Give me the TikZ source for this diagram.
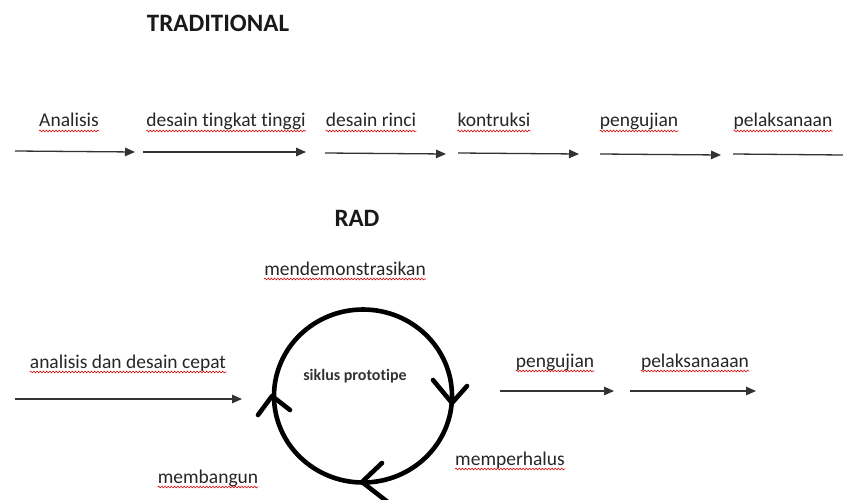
\documentclass[tikz,border=0pt]{standalone}
\usepackage{fontspec}
\setmainfont[Ligatures={NoCommon}]{Carlito}
\usetikzlibrary{arrows.meta,decorations.pathmorphing,shapes.geometric}

\tikzset{
  lbl/.style={inner sep=0pt, anchor=base, font=\fontsize{19.5}{22}\selectfont, text=black!85},
  head/.style={inner sep=0pt, anchor=base, font=\fontsize{25}{28}\selectfont\bfseries, text=black!90},
  flow/.style={line width=1.3pt, draw=black!80, -{Triangle[length=10pt,width=8.5pt]}},
  squig/.style={draw=red!85!black, line width=0.55pt, decorate,
                decoration={snake, amplitude=0.9pt, segment length=3.2pt}},
  cyc/.style={line width=4.6pt, draw=black},
  chev/.style={line width=4.6pt, draw=black, line cap=round, line join=round}
}

\begin{document}
\begin{tikzpicture}[x=1pt,y=-1pt]
\useasboundingbox (0,0) rectangle (843,500);

% ---------- traditional sequence ----------
\node[head] (tradh) at (218,32) {TRADITIONAL};

\node[lbl] (t1) at (69,127)  {Analisis};
\node[lbl] (t2) at (226,127) {desain tingkat tinggi};
\node[lbl] (t3) at (371,127) {desain rinci};
\node[lbl] (t4) at (494,127) {kontruksi};
\node[lbl] (t5) at (639,127) {pengujian};
\node[lbl] (t6) at (783,127) {pelaksanaan};

\coordinate (a1s) at (15,151);  \coordinate (a1e) at (135,152);
\coordinate (a2s) at (143,152); \coordinate (a2e) at (306,152);
\coordinate (a3s) at (325,153); \coordinate (a3e) at (446,154);
\coordinate (a4s) at (458,153); \coordinate (a4e) at (579,154);
\coordinate (a5s) at (600,154); \coordinate (a5e) at (721,155);
\coordinate (a6s) at (733,154); \coordinate (a6e) at (843,155);

\draw[flow] (a1s) -- (a1e);
\draw[flow] (a2s) -- (a2e);
\draw[flow] (a3s) -- (a3e);
\draw[flow] (a4s) -- (a4e);
\draw[flow] (a5s) -- (a5e);
\draw[line width=1.3pt, draw=black!80] (a6s) -- (a6e);

% ---------- RAD ----------
\node[head] (radh) at (357,226) {RAD};

\node[lbl] (r0) at (345,275) {mendemonstrasikan};
\node[lbl] (r1) at (128,368) {analisis dan desain cepat};
\node[lbl] (r2) at (555,367) {pengujian};
\node[lbl] (r3) at (695,367) {pelaksanaaan};
\node[lbl] (r4) at (510,465) {memperhalus};
\node[lbl] (r5) at (208,483) {membangun};

% prototype cycle
\node[cyc, ellipse, minimum width=178pt, minimum height=173pt, inner sep=0pt] (cyc) at (363,396) {};
\node[inner sep=0pt, anchor=base, font=\fontsize{16}{18}\selectfont\bfseries, text=black!80] (cyct) at (355,380) {siklus prototipe};

\draw[chev] (433,380) -- (452,403) -- (467,386);
\draw[chev] (382,463) -- (362,482) -- (389,503);
\draw[chev] (258,415) -- (272,396) -- (290,410);

\coordinate (b1s) at (15,399);  \coordinate (b1e) at (242,399);
\coordinate (b2s) at (500,391); \coordinate (b2e) at (614,391);
\coordinate (b3s) at (630,391); \coordinate (b3e) at (756,391);
\draw[flow] (b1s) -- (b1e);
\draw[flow] (b2s) -- (b2e);
\draw[flow] (b3s) -- (b3e);

% spell-check underlines
\foreach \n in {t1,t2,t3,t4,t5,t6,r0,r1,r2,r3,r4,r5}
  \draw[squig] ([yshift=-4pt]\n.base west) -- ([yshift=-4pt]\n.base east);
\end{tikzpicture}
\end{document}
